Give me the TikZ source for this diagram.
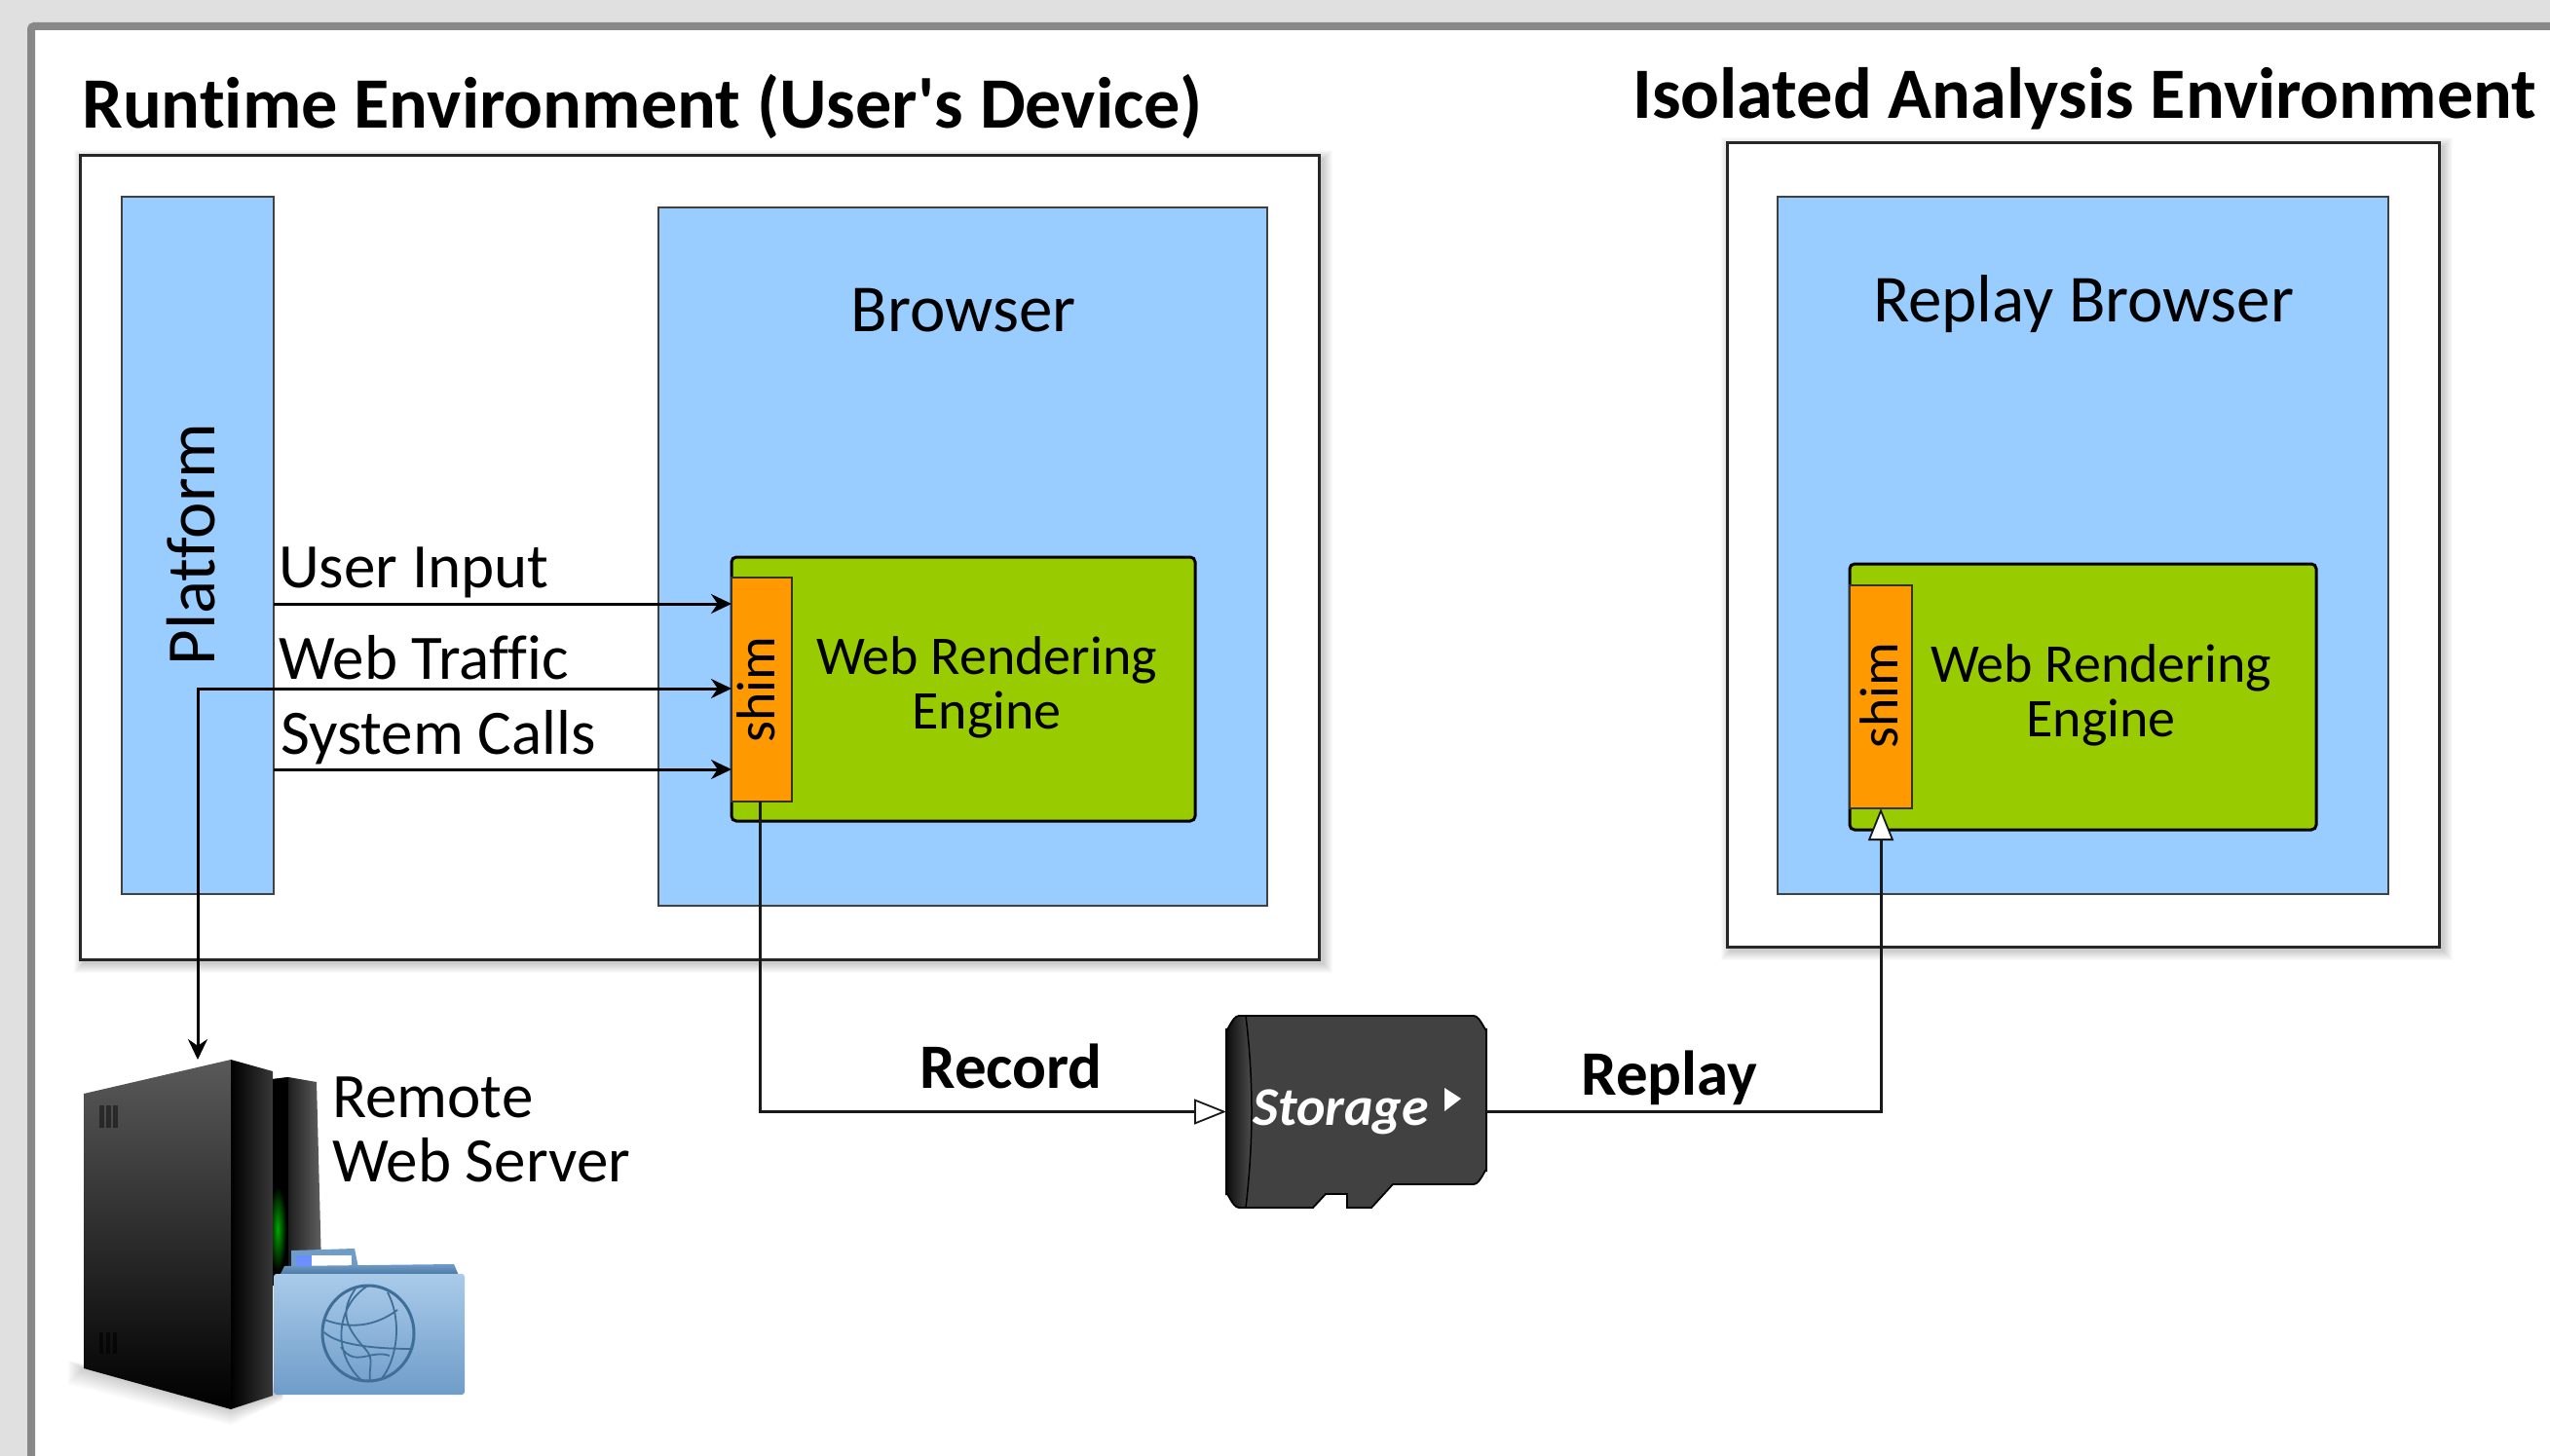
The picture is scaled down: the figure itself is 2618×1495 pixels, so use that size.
\documentclass[tikz,border=0pt]{standalone}
\usepackage{fontspec}
\setmainfont{Carlito}[Ligatures={NoCommon,TeXOff}]
\usetikzlibrary{arrows.meta,positioning,calc}
\definecolor{pagebg}{HTML}{E0E0E0}
\definecolor{framegray}{HTML}{888888}
\definecolor{blueb}{HTML}{99CCFF}
\definecolor{greenb}{HTML}{99CC00}
\definecolor{orangeb}{HTML}{FF9900}
\definecolor{carddark}{HTML}{414141}
\definecolor{folderdark}{HTML}{3F6E98}
\definecolor{foldermid}{HTML}{A9CBEA}
\definecolor{folderlow}{HTML}{6F9CC8}
\pgfdeclarelayer{shadowlayer}
\pgfsetlayers{shadowlayer,main}
\newcommand{\softshadow}[1]{\begin{pgfonlayer}{shadowlayer}\foreach \e in {1,...,10}{\fill[black,opacity=.018] ([shift={(-\e+4,-\e+4)}]#1.north west) rectangle ([shift={(\e+4,\e+4)}]#1.south east);}\end{pgfonlayer}}
\newcommand{\fs}[1]{\fontsize{#1}{#1}\selectfont}
\tikzset{
  x=1pt,y=-1pt,
  region/.style={draw=black!85,line width=3pt,fill=white,inner sep=0pt,outer sep=0pt,anchor=north west},
  bluebox/.style={draw=black!75,line width=1.8pt,fill=blueb,inner sep=0pt,outer sep=0pt,anchor=north west},
  engine/.style={draw=black,line width=3pt,fill=greenb,rounded corners=5pt,inner sep=0pt,outer sep=0pt,anchor=north west},
  shimbox/.style={draw=black!80,line width=1.8pt,fill=orangeb,inner sep=0pt,outer sep=0pt,anchor=north west},
  heading/.style={font=\fs{74.3}\bfseries,anchor=base west,inner sep=0pt},
  label/.style={font=\fs{65},anchor=base west,inner sep=0pt},
  biglabel/.style={font=\fs{69},anchor=base,inner sep=0pt},
  boldlabel/.style={font=\fs{65}\bfseries,anchor=base,inner sep=0pt},
  shimtext/.style={font=\fs{56},rotate=90,anchor=base,inner sep=0pt},
  flow/.style={draw=black,line width=3pt,-{Stealth[length=21pt,width=20pt]}},
  flowboth/.style={draw=black,line width=3pt,{Stealth[length=21pt,width=20pt]}-{Stealth[length=21pt,width=20pt]}},
  openflow/.style={draw=black!90,line width=3pt,-{Triangle[length=33pt,width=26pt,fill=white,line width=1.8pt]}},
  globe/.style={draw=folderdark,line width=3pt},
}
\begin{document}
\begin{tikzpicture}
\clip (0,0) rectangle (2618,1495);
\useasboundingbox (0,0) rectangle (2618,1495);
\begin{pgfonlayer}{shadowlayer}
\fill[pagebg] (0,0) rectangle (2618,1495);
\draw[framegray,line width=8pt,fill=white,rounded corners=3pt] (32,27) rectangle (2700,1600);
\end{pgfonlayer}

% regions
\node[region,minimum width=1272pt,minimum height=825pt] (runtime) at (82,160) {};
\node[region,minimum width=731pt,minimum height=825pt] (isolated) at (1773,147) {};
\softshadow{runtime}
\softshadow{isolated}
\node[bluebox,minimum width=156pt,minimum height=716pt] (platform) at (125,202) {};
\node[bluebox,minimum width=625pt,minimum height=717pt] (browser) at (676,213) {};
\node[bluebox,minimum width=627pt,minimum height=716pt] (replaybrowser) at (1825,202) {};
\node[engine,minimum width=476pt,minimum height=271pt] (engineA) at (751,572) {};
\node[engine,minimum width=479pt,minimum height=273pt] (engineB) at (1899,579) {};
\node[shimbox,minimum width=62pt,minimum height=230pt] (shimA) at (751,593) {};
\node[shimbox,minimum width=64pt,minimum height=229pt] (shimB) at (1899,601) {};

% headings and labels
\node[heading] (hrun) at (84,132) {Runtime Environment (User's Device)};
\node[heading] (hiso) at (1676,122) {Isolated Analysis Environment};
\node[biglabel] (lbrowser) at (989,341) {Browser};
\node[biglabel] (lreplay) at (2139,331) {Replay Browser};
\node[font=\fs{71},rotate=90,anchor=base,inner sep=0pt] (lplatform) at (220,559) {Platform};
\node[label] (luser) at (286,603) {User Input};
\node[label] (lweb) at (286,697) {Web Traffic};
\node[label] (lsys) at (288,774) {System Calls};
\node[shimtext] (lshimA) at (795,708) {shim};
\node[shimtext] (lshimB) at (1948,714) {shim};
\node[font=\fs{56},align=center,inner sep=0pt] (lengA) at (1013,706) {Web Rendering\\[0pt]Engine};
\node[font=\fs{56},align=center,inner sep=0pt] (lengB) at (2157,714) {Web Rendering\\[0pt]Engine};
\node[boldlabel] (lrecord) at (1038,1117) {Record};
\node[boldlabel] (lreplayflow) at (1714,1124) {Replay};
\node[label,anchor=base west] (lremote) at (341,1147) {Remote};
\node[label,anchor=base west] (lserver) at (341,1213) {Web Server};

% storage card
\node[minimum width=267pt,minimum height=197pt,inner sep=0pt,outer sep=0pt,anchor=north west] (storage) at (1259,1043) {};
\def\cardpath{(1272,1043) -- (1513,1043) to[out=0,in=-90] (1526,1056) -- (1526,1203) to[out=90,in=0] (1513,1216) -- (1430,1216) -- (1408,1240) -- (1383,1240) -- (1383,1226) -- (1361,1226) -- (1348,1240) -- (1272,1240) to[out=180,in=90] (1259,1227) -- (1259,1056) to[out=-90,in=180] cycle}
\fill[carddark] \cardpath;
\begin{scope}
\clip \cardpath;
\shade[left color=black!95,right color=black!68] (1259,1043) -- (1279,1043) .. controls (1287,1110) and (1287,1170) .. (1279,1240) -- (1259,1240) -- cycle;
\draw[black,line width=1.5pt] (1279,1043) .. controls (1287,1110) and (1287,1170) .. (1279,1240);
\end{scope}
\draw[black,line width=1.8pt] \cardpath;
\fill[white] (1483,1117) -- (1500,1128) -- (1483,1141) -- cycle;
\node[font=\fs{56}\itshape\bfseries,text=white,anchor=base west,inner sep=0pt] (lstorage) at (1286,1155) {Storage};

% server: shadow
\foreach \e in {2,4,...,16}{
  \fill[black,opacity=.022] (86-\e,1405-\e/2) -- (237,1447-\e) -- (290,1430-\e) -- (290,1430+\e/2) -- (237,1447+\e) -- (86-\e,1405+\e) -- cycle;
}
% server: rear unit
\shade[left color=black,right color=black!62] (280,1108) -- (296,1106) -- (325,1111) -- (330,1300) -- (280,1300) -- cycle;
\fill[black] (280,1108) -- (296,1106) -- (296,1320) -- (280,1320) -- cycle;
\shade[inner color=green!65!black,outer color=black,shading=radial] (285,1262) ellipse (9pt and 44pt);
% server: tower
\shade[top color=black!65,bottom color=black] (86,1123) -- (237,1088) -- (237,1447) -- (86,1405) -- cycle;
\shade[left color=black,right color=black!78] (237,1088) -- (280,1100) -- (280,1433) -- (237,1447) -- cycle;
\foreach \vx in {102,109,116}{
  \fill[black,opacity=.45] (\vx,1135) rectangle (\vx+5,1158);
  \fill[black,opacity=.6] (\vx,1368) rectangle (\vx+4,1390);
}
% server: folder
\fill[folderlow] (299,1300) -- (299,1284) -- (364,1282) -- (368,1302) -- cycle;
\fill[white] (320,1289) rectangle (361,1300);
\fill[blueb!70!blue] (304,1289) rectangle (320,1300);
\shade[top color=folderlow,bottom color=folderdark] (292,1300) -- (466,1298) -- (472,1312) -- (286,1312) -- cycle;
\shade[rounded corners=3pt,top color=foldermid,middle color=foldermid!90!white,bottom color=folderlow] (281,1308) rectangle (477,1432);
\draw[globe] (378,1369) ellipse (47pt and 49pt);
\draw[globe,line width=1.8pt] (378,1320) .. controls (345,1340) and (340,1390) .. (372,1418)
  (365,1323) .. controls (350,1345) and (352,1360) .. (375,1385) .. controls (385,1395) and (378,1405) .. (380,1418)
  (398,1327) .. controls (415,1360) and (405,1400) .. (392,1415)
  (333,1355) .. controls (360,1365) and (385,1362) .. (408,1345)
  (333,1368) .. controls (345,1380) and (380,1385) .. (424,1385)
  (350,1383) .. controls (365,1405) and (380,1385) .. (400,1392);

% connectors
\coordinate (srv) at (203,1088);
\coordinate (tap) at (203,707);
\coordinate (uin) at (281,620);
\coordinate (sys) at (281,790);
\draw[flow] (uin) -- (uin -| shimA.west);
\draw[flow] (sys) -- (sys -| shimA.west);
\draw[flowboth] (srv) -- (tap) -- (tap -| shimA.west);
\draw[openflow] ([xshift=-1.5pt]shimA.south) |- (storage.west);
\draw[openflow] (storage.east) -| (shimB.south);
\end{tikzpicture}
\end{document}
